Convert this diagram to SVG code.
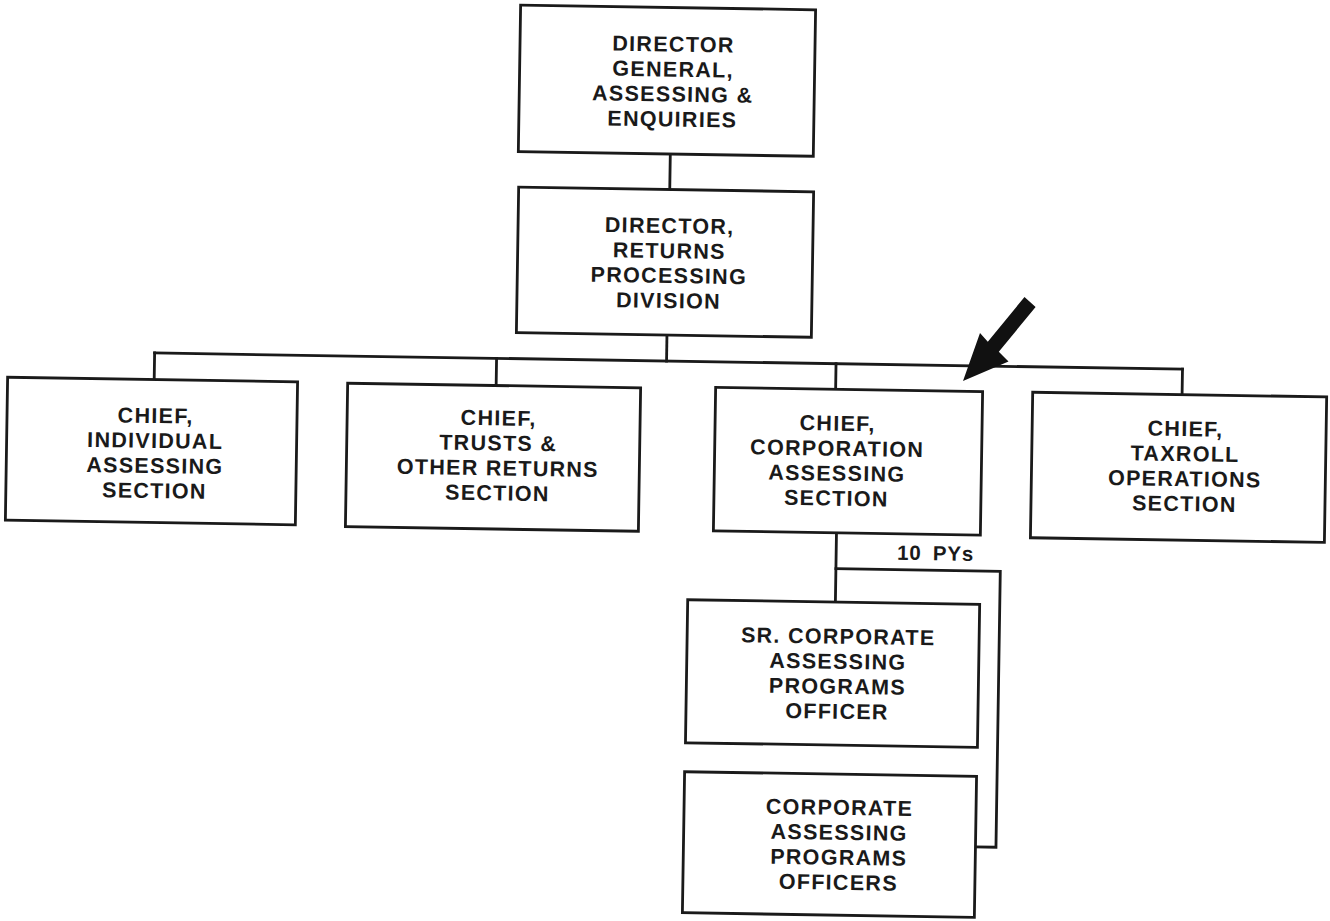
<svg xmlns="http://www.w3.org/2000/svg" width="1330" height="921" viewBox="0 0 1330 921">
  <style>
    .box { fill: #ffffff; stroke: #1a1a1a; stroke-width: 2.8; }
    .wire { fill: none; stroke: #1a1a1a; stroke-width: 2.8; stroke-linecap: square; }
    .lbl { font-family: "Liberation Sans", Arial, sans-serif; font-weight: bold; font-size: 21.5px; letter-spacing: 1.3px; fill: #1a1a1a; text-anchor: middle; }
    .py { font-family: "Liberation Sans", Arial, sans-serif; font-weight: bold; font-size: 20.5px; letter-spacing: 0.8px; word-spacing: 5px; fill: #1a1a1a; text-anchor: middle; }
  </style>
  <rect width="1330" height="921" fill="#ffffff"/>

  <!-- whole chart sits slightly tilted on the page -->
  <g transform="rotate(0.9 665 460)">
    <g id="connectors">
      <path class="wire" d="M665.5 154 V189.5"/>
      <path class="wire" d="M665 335 V361"/>
      <path class="wire" d="M153 361 H1181"/>
      <path class="wire" d="M153 361 V387.6 M495 361 V388.2 M834.5 361 V386.6 M1181 361 V386.5"/>
      <path class="wire" d="M837.6 530.1 V599.4"/>
      <path class="wire" d="M837.6 566 H1002 V842 H981.5"/>
    </g>

    <text class="py" x="937" y="556">10 PYs</text>

    <g id="director-general">
      <rect class="box" x="513.5" y="7.5" width="295" height="146.5"/>
      <text class="lbl" x="667" y="51.5">DIRECTOR</text>
      <text class="lbl" x="667" y="76.5">GENERAL,</text>
      <text class="lbl" x="667" y="101.5">ASSESSING &amp;</text>
      <text class="lbl" x="667" y="126.5">ENQUIRIES</text>
    </g>

    <g id="director-returns">
      <rect class="box" x="514.4" y="189.5" width="295" height="145.5"/>
      <text class="lbl" x="666" y="233">DIRECTOR,</text>
      <text class="lbl" x="666" y="258">RETURNS</text>
      <text class="lbl" x="666" y="283">PROCESSING</text>
      <text class="lbl" x="666" y="308">DIVISION</text>
    </g>

    <g id="chief-individual">
      <rect class="box" x="6.4" y="387.6" width="290" height="143"/>
      <text class="lbl" x="155" y="431">CHIEF,</text>
      <text class="lbl" x="155" y="456">INDIVIDUAL</text>
      <text class="lbl" x="155" y="481">ASSESSING</text>
      <text class="lbl" x="155" y="506">SECTION</text>
    </g>

    <g id="chief-trusts">
      <rect class="box" x="346.5" y="388.2" width="293" height="143.5"/>
      <text class="lbl" x="498" y="428">CHIEF,</text>
      <text class="lbl" x="498" y="453">TRUSTS &amp;</text>
      <text class="lbl" x="498" y="478">OTHER RETURNS</text>
      <text class="lbl" x="498" y="503">SECTION</text>
    </g>

    <g id="chief-corporation">
      <rect class="box" x="714.5" y="386.6" width="267" height="143.5"/>
      <text class="lbl" x="837" y="428">CHIEF,</text>
      <text class="lbl" x="837" y="453">CORPORATION</text>
      <text class="lbl" x="837" y="478">ASSESSING</text>
      <text class="lbl" x="837" y="503">SECTION</text>
    </g>

    <g id="chief-taxroll">
      <rect class="box" x="1031.6" y="386.5" width="294" height="145.5"/>
      <text class="lbl" x="1185" y="428">CHIEF,</text>
      <text class="lbl" x="1185" y="453">TAXROLL</text>
      <text class="lbl" x="1185" y="478">OPERATIONS</text>
      <text class="lbl" x="1185" y="503">SECTION</text>
    </g>

    <g id="sr-officer">
      <rect class="box" x="689.9" y="599.4" width="292" height="143"/>
      <text class="lbl" x="841" y="641">SR. CORPORATE</text>
      <text class="lbl" x="841" y="666">ASSESSING</text>
      <text class="lbl" x="841" y="691">PROGRAMS</text>
      <text class="lbl" x="841" y="716">OFFICER</text>
    </g>

    <g id="officers">
      <rect class="box" x="689.5" y="771.4" width="292" height="141"/>
      <text class="lbl" x="845" y="812">CORPORATE</text>
      <text class="lbl" x="845" y="837">ASSESSING</text>
      <text class="lbl" x="845" y="862">PROGRAMS</text>
      <text class="lbl" x="845" y="887">OFFICERS</text>
    </g>
  </g>

  <!-- pointer aimed at the corporation section -->
  <polygon id="pointer" fill="#111111" points="1024.5,297 987.8,341.7 980,333 963,381 1008.5,361.5 998.8,351.7 1035.6,307"/>
</svg>
